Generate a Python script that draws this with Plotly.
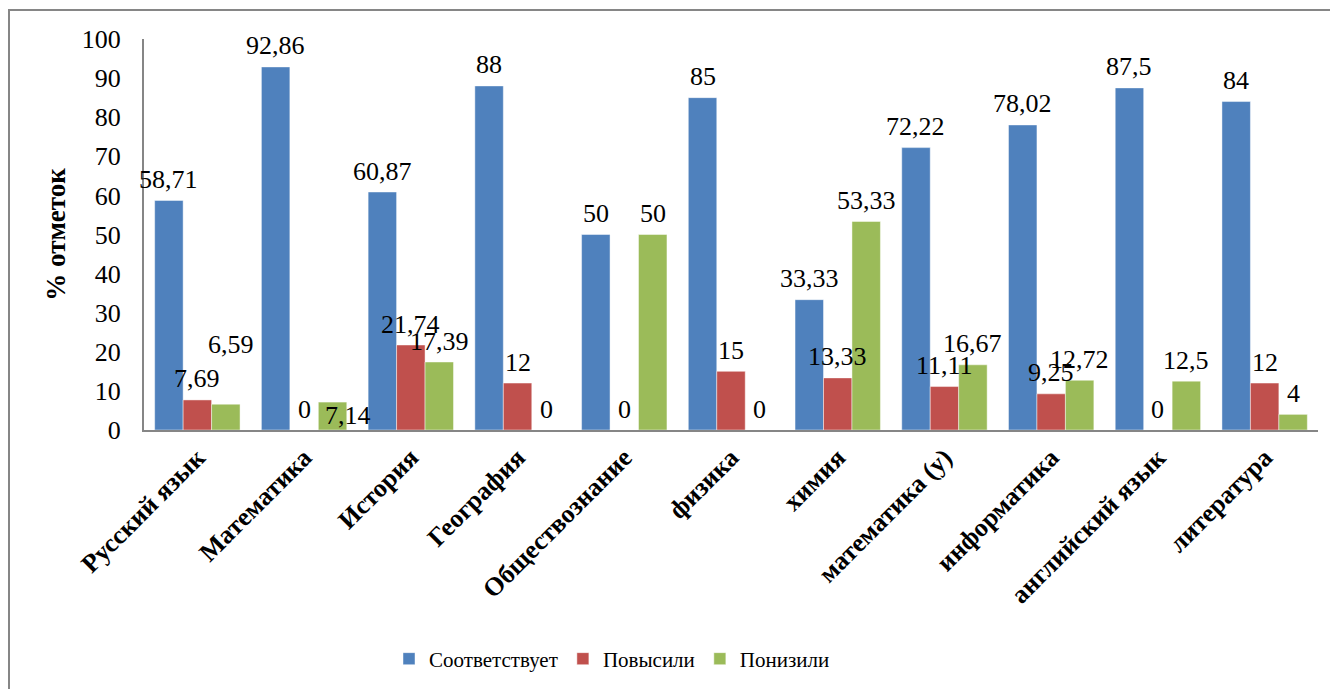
import plotly.graph_objects as go

categories = ["Русский язык", "Математика", "История", "География", "Обществознание",
              "физика", "химия", "математика (у)", "информатика", "английский язык", "литература"]
sootv = [58.71, 92.86, 60.87, 88, 50, 85, 33.33, 72.22, 78.02, 87.5, 84]
povys = [7.69, 0, 21.74, 12, 0, 15, 13.33, 11.11, 9.25, 0, 12]
poniz = [6.59, 7.14, 17.39, 0, 50, 0, 53.33, 16.67, 12.72, 12.5, 4]
series_names = ["Соответствует", "Повысили", "Понизили"]
colors = ["#4F81BD", "#C0504D", "#9BBB59"]
y_ticks = [0, 10, 20, 30, 40, 50, 60, 70, 80, 90, 100]

# page body has an 8px margin; compensate so the plot lands where the reference has it
OFF = 8
W, H = 1338, 689
L, T = 144 - OFF, 39 - OFF
pw, ph = 1174, 391
R = W - L - pw
B = H - T - ph
BARGAP = 0.2
NSER = 3
bar_px = pw / len(categories) * (1 - BARGAP) / NSER

def px2paper_x(px):
    return (px - OFF - L) / pw

def px2paper_y(py):
    return (T + ph - (py - OFF)) / ph

FONT = "Liberation Serif, Times New Roman, serif"

def fmt(v):
    return f"{v:g}".replace(".", ",")

# labels that sit off their usual place in the reference: (series, category) -> extra shift
moved = {(2, 0): (5, 39), (2, 1): (15, -34)}

fig = go.Figure()
annotations = []
for si, (name, vals, col) in enumerate(zip(series_names, [sootv, povys, poniz], colors)):
    fig.add_trace(go.Bar(
        x=categories, y=vals, name=name,
        marker=dict(color=col, line=dict(color="rgba(255,255,255,0.45)", width=1)),
        cliponaxis=False,
    ))
    for ci, v in enumerate(vals):
        dx, dy = moved.get((si, ci), (0, 0))
        annotations.append(dict(
            x=categories[ci], y=v, xref="x", yref="y", text=fmt(v), showarrow=False,
            xshift=(si - (NSER - 1) / 2) * bar_px + dx, yshift=21 + dy,
            xanchor="center", yanchor="middle",
            font=dict(family=FONT, size=26, color="black")))

fig.update_layout(
    width=W, height=H,
    margin=dict(l=L, r=R, t=T, b=B),
    paper_bgcolor="white", plot_bgcolor="white",
    barmode="group", bargap=BARGAP, bargroupgap=0,
    font=dict(family=FONT, color="black"),
    annotations=annotations,
    legend=dict(orientation="h", x=px2paper_x(612), y=px2paper_y(659),
                xanchor="center", yanchor="middle",
                font=dict(family=FONT, size=21, color="black"),
                itemwidth=30, traceorder="normal"),
    xaxis=dict(range=[-0.5, len(categories) - 0.5], showline=True, linecolor="#868686",
               linewidth=2, ticks="", tickangle=-45,
               tickfont=dict(family=FONT, size=26, color="black", weight="bold"),
               showgrid=False),
    yaxis=dict(range=[0, 100], tickvals=y_ticks, showline=True, linecolor="#868686", linewidth=2,
               ticks="", showgrid=False, zeroline=False,
               tickfont=dict(family=FONT, size=26, color="black"),
               ticklabelstandoff=16,
               title=dict(text="<b>% отметок</b>", font=dict(family=FONT, size=27, color="black"),
                          standoff=8)),
    shapes=[dict(type="rect", xref="paper", yref="paper",
                 x0=px2paper_x(9), x1=px2paper_x(1360),
                 y0=px2paper_y(720), y1=px2paper_y(10),
                 line=dict(color="#868686", width=2), fillcolor="rgba(0,0,0,0)", layer="below")],
)

fig.write_html("out.html")
